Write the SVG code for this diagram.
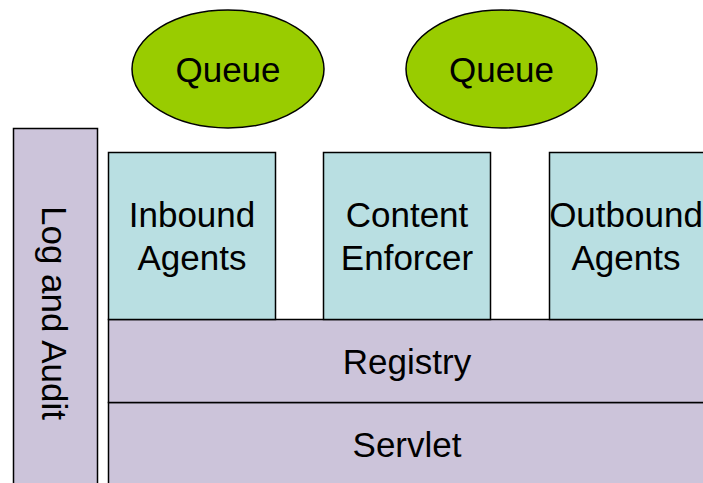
<svg xmlns="http://www.w3.org/2000/svg" width="703" height="483" viewBox="0 0 703 483">
<style>
  .lbl { font-family: "Liberation Sans", Arial, sans-serif; font-size: 35px; fill: #000; text-anchor: middle; }
  .purple { fill: #CCC4DA; stroke: #000; stroke-width: 1.5; }
  .blue { fill: #B9DFE2; stroke: #000; stroke-width: 1.5; }
  .green { fill: #99CC00; stroke: #000; stroke-width: 1.5; }
</style>
<rect width="703" height="483" fill="#fff"/>
<g id="log-audit">
  <rect class="purple" x="13.5" y="128.5" width="84" height="370"/>
  <text class="lbl" transform="translate(41.5,313) rotate(90)" x="0" y="0">Log and Audit</text>
</g>
<g id="servlet">
  <rect class="purple" x="108.5" y="402.5" width="610" height="100"/>
  <text class="lbl" x="407" y="457">Servlet</text>
</g>
<g id="registry">
  <rect class="purple" x="108.5" y="319.5" width="610" height="83"/>
  <text class="lbl" x="407" y="374">Registry</text>
</g>
<g id="inbound-agents">
  <rect class="blue" x="108.5" y="152.5" width="167" height="167"/>
  <text class="lbl" x="192" y="227">Inbound</text>
  <text class="lbl" x="192" y="270">Agents</text>
</g>
<g id="content-enforcer">
  <rect class="blue" x="323.5" y="152.5" width="167" height="167"/>
  <text class="lbl" x="407" y="227">Content</text>
  <text class="lbl" x="407" y="270">Enforcer</text>
</g>
<g id="outbound-agents">
  <rect class="blue" x="549.5" y="152.5" width="167" height="167"/>
  <text class="lbl" x="626" y="227">Outbound</text>
  <text class="lbl" x="626" y="270">Agents</text>
</g>
<g id="queue-1">
  <ellipse class="green" cx="228" cy="69" rx="96" ry="59"/>
  <text class="lbl" x="228" y="82">Queue</text>
</g>
<g id="queue-2">
  <ellipse class="green" cx="501.5" cy="69" rx="95.5" ry="59"/>
  <text class="lbl" x="501.5" y="82">Queue</text>
</g>
<g id="connectors"></g>
</svg>
